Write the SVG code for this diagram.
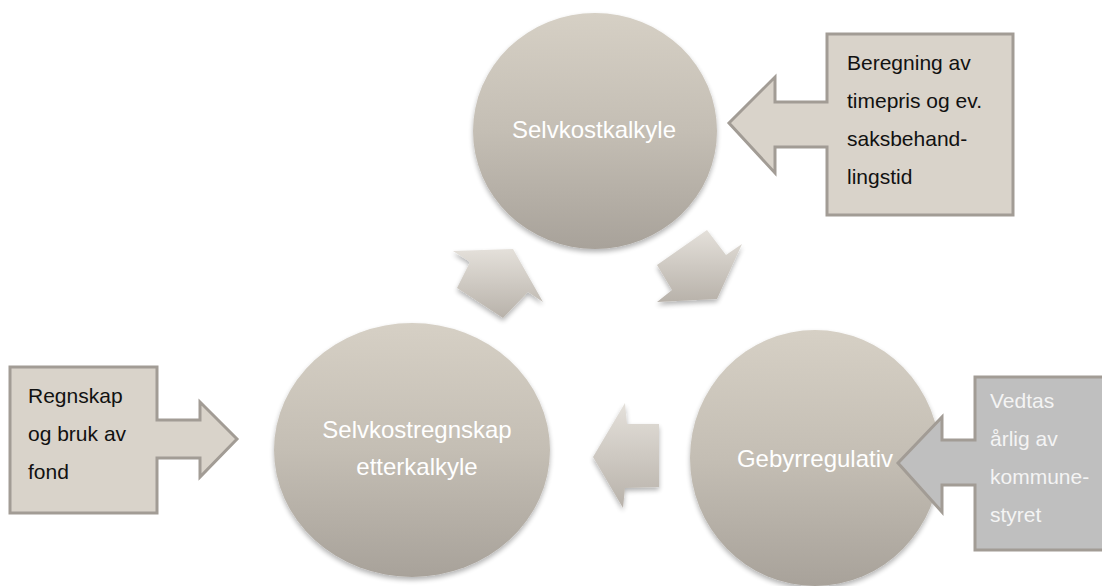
<svg xmlns="http://www.w3.org/2000/svg" width="1102" height="586" viewBox="0 0 1102 586">
<defs>
<linearGradient id="gCircle" x1="0" y1="0" x2="0" y2="1">
<stop offset="0" stop-color="#d6d0c5"/>
<stop offset="0.5" stop-color="#c4beb4"/>
<stop offset="1" stop-color="#a8a29a"/>
</linearGradient>
<linearGradient id="gArrow" x1="0" y1="0" x2="0" y2="1">
<stop offset="0" stop-color="#e4e0da"/>
<stop offset="1" stop-color="#b8b2aa"/>
</linearGradient>
<filter id="shadow" x="-20%" y="-20%" width="140%" height="140%">
<feGaussianBlur in="SourceAlpha" stdDeviation="2.5"/>
<feOffset dx="0" dy="3" result="b"/>
<feComponentTransfer><feFuncA type="linear" slope="0.3"/></feComponentTransfer>
<feMerge><feMergeNode/><feMergeNode in="SourceGraphic"/></feMerge>
</filter>
</defs>
<style>
.circle{fill:url(#gCircle);filter:url(#shadow);}
.ctext{font-family:"Liberation Sans",Arial,sans-serif;font-size:24px;fill:#ffffff;text-anchor:middle;}
.cyc{fill:url(#gArrow);filter:url(#shadow);}
.box{fill:#d9d3ca;stroke:#a29c95;stroke-width:3;}
.boxg{fill:#bfbfbf;stroke:#a29c95;stroke-width:3;}
.btext{font-family:"Liberation Sans",Arial,sans-serif;font-size:21px;fill:#111111;}
.btextw{font-family:"Liberation Sans",Arial,sans-serif;font-size:21px;fill:#f4f4f4;}
</style>
<rect width="1102" height="586" fill="#ffffff"/>

<g id="connectors">
<polygon class="cyc" points="453,251 513,249 543,302 528,292 503,318 457,288 470,262"/>
<polygon class="cyc" points="707,230 726,255 742,244 717,299 657,302 672,290 657,265"/>
<polygon class="cyc" points="625,403 593,457 623,508 625,488 659,487 659,424 627,424"/>
</g>

<g id="node-selvkostkalkyle">
<ellipse class="circle" cx="595" cy="131" rx="122" ry="118"/>
<text class="ctext" x="594" y="138">Selvkostkalkyle</text>
</g>

<g id="node-gebyrregulativ">
<ellipse class="circle" cx="815" cy="458" rx="125" ry="128"/>
<text class="ctext" x="815" y="467">Gebyrregulativ</text>
</g>

<g id="node-selvkostregnskap">
<ellipse class="circle" cx="412" cy="450" rx="138" ry="127"/>
<text class="ctext" x="417" y="438">Selvkostregnskap</text>
<text class="ctext" x="417" y="475">etterkalkyle</text>
</g>

<g id="callout-beregning">
<path class="box" d="M827,34 H1013 V215 H827 V147 H775 V173 L729,123 L775,77 V102 H827 Z"/>
<text class="btext" x="847" y="70">Beregning av</text>
<text class="btext" x="847" y="108">timepris og ev.</text>
<text class="btext" x="847" y="146">saksbehand-</text>
<text class="btext" x="847" y="184">lingstid</text>
</g>

<g id="callout-regnskap">
<path class="box" d="M10,367 H157 V420 H200 V402 L237,439 L200,477 V458 H157 V513 H10 Z"/>
<text class="btext" x="28" y="403">Regnskap</text>
<text class="btext" x="28" y="441">og bruk av</text>
<text class="btext" x="28" y="479">fond</text>
</g>

<g id="callout-vedtas">
<path class="boxg" d="M975,377 H1106 V550 H975 V485 H942 V512 L898,463 L942,417 V440 H975 Z"/>
<text class="btextw" x="990" y="408">Vedtas</text>
<text class="btextw" x="990" y="446">årlig av</text>
<text class="btextw" x="990" y="484">kommune-</text>
<text class="btextw" x="990" y="522">styret</text>
</g>
</svg>
